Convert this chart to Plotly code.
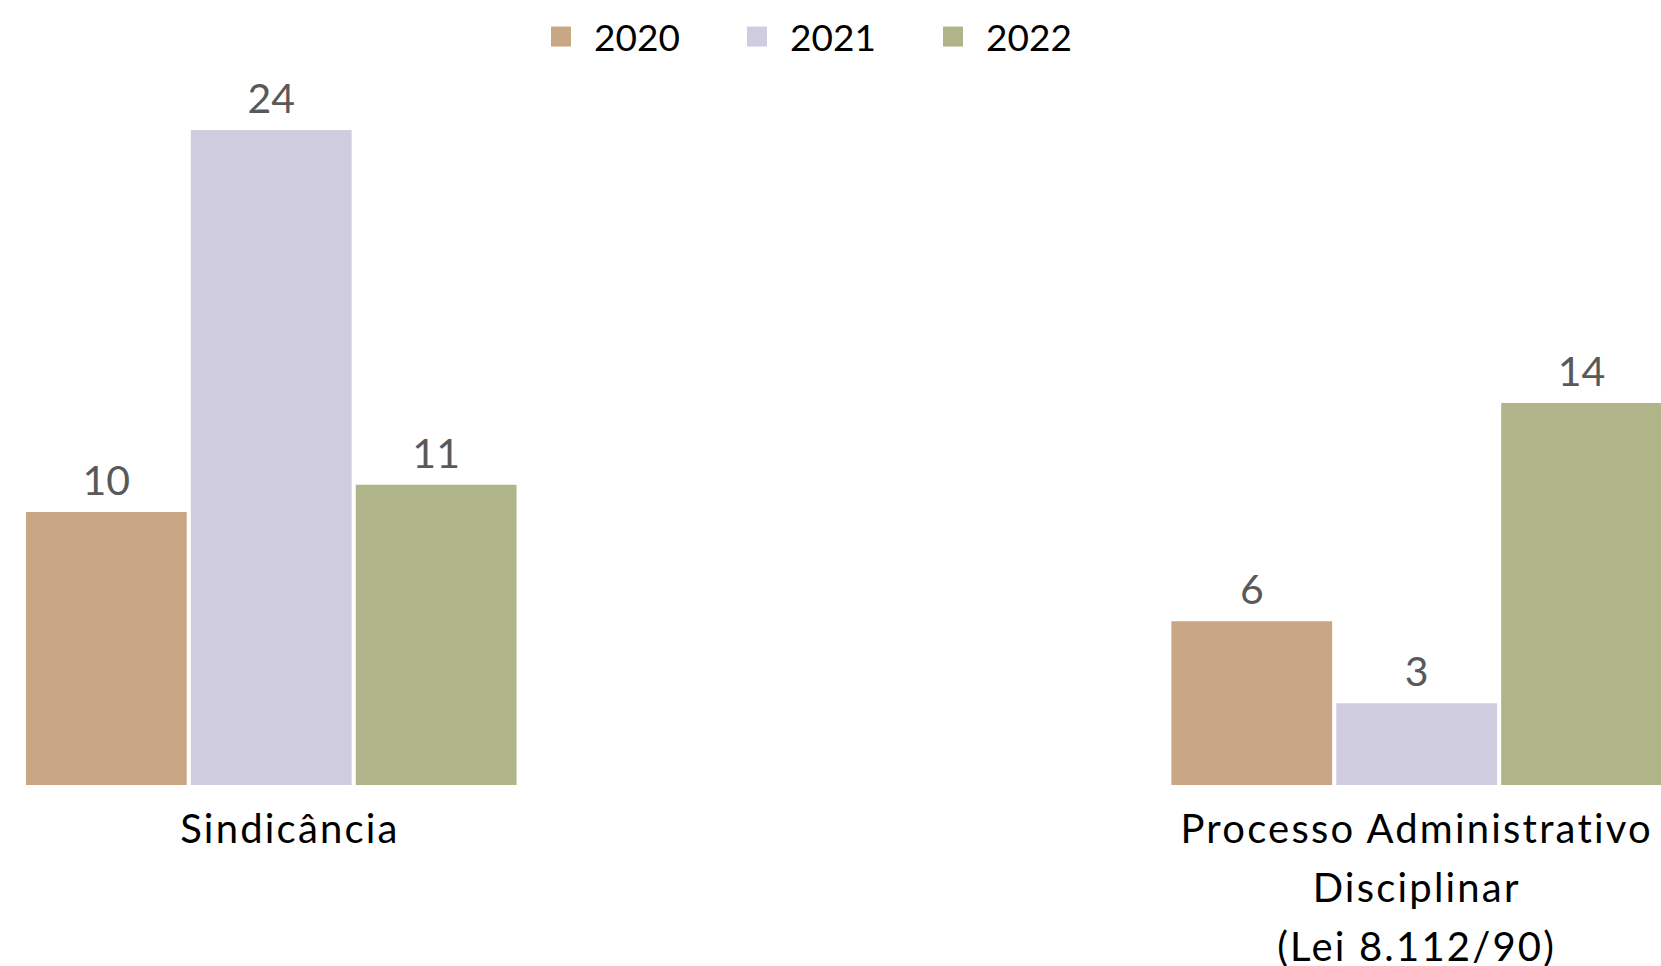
import plotly.graph_objects as go

categories = ["Sindicância", "Processo Administrativo Disciplinar (Lei 8.112/90)"]
tick_labels = ["\u00a0\u00a0\u00a0Sindicância", "Processo Administrativo<br>Disciplinar<br>(Lei 8.112/90)"]
years = ["2020", "2021", "2022"]
values_2020 = [10, 6]
values_2021 = [24, 3]
values_2022 = [11, 14]
colors = ["#C9A684", "#D0CCE0", "#B0B489"]

series = [values_2020, values_2021, values_2022]

fig = go.Figure()
for name, vals, col in zip(years, series, colors):
    fig.add_trace(go.Bar(
        x=categories, y=vals, name=name,
        marker=dict(color=col, line=dict(width=0)),
        text=[str(v) for v in vals], textposition="outside",
        textfont=dict(family="Lato", size=41, color="#595959"),
        cliponaxis=False, showlegend=False,
    ))
# legend entries with square swatches
for name, col in zip(years, colors):
    fig.add_trace(go.Scatter(
        x=[None], y=[None], mode="markers", name=name,
        marker=dict(symbol="square", size=16, color=col),
    ))

fig.update_layout(
    width=1661, height=966,
    paper_bgcolor="white", plot_bgcolor="white",
    margin=dict(l=0, r=0, t=100, b=181),
    barmode="group", bargap=0.5681, bargroupgap=0.025,
    font=dict(family="Lato", size=40, color="black"),
    legend=dict(
        orientation="h", x=541 / 1661, xanchor="left",
        y=1 + 63 / 685, yanchor="middle",
        font=dict(family="Lato", size=37, color="black"),
        entrywidth=151, entrywidthmode="pixels",
        itemsizing="trace",
    ),
    xaxis=dict(
        range=[-0.2368, 1.2133], showgrid=False, showline=False,
        zeroline=False, ticks="", ticklabelstandoff=17,
        tickmode="array", tickvals=categories, ticktext=tick_labels,
        tickfont=dict(family="Lato", size=40, color="black"),
    ),
    yaxis=dict(
        range=[0, 685 / 27.29], visible=False, showgrid=False, zeroline=False,
    ),
)

post = """
var gd = document.getElementById('{plot_id}');
function tweak() {
  document.body.style.margin = '0';
  document.body.style.overflow = 'hidden';
  gd.querySelectorAll('.xtick text').forEach(function(t) {
    t.style.letterSpacing = '2.2px';
    t.querySelectorAll('tspan.line').forEach(function(s, i) {
      s.setAttribute('dy', (i * 1.48) + 'em');
    });
  });
  gd.querySelectorAll('.legend .legendtext').forEach(function(t) {
    t.setAttribute('x', 53);
  });
  gd.querySelectorAll('.legend .legendpoints path.scatterpts').forEach(function(p) {
    p.setAttribute('d', 'M10,10H-10V-10H10Z');
  });
  gd.querySelectorAll('.bars .point text').forEach(function(t) {
    if (t.getAttribute('data-shifted')) return;
    var tr = t.getAttribute('transform') || '';
    t.setAttribute('transform', 'translate(0,-5) ' + tr);
    t.setAttribute('data-shifted', '1');
  });
}
tweak();
if (gd.on) { gd.on('plotly_afterplot', tweak); }
setTimeout(tweak, 200);
"""

fig.write_html("out.html", post_script=post, config={"displayModeBar": False})
